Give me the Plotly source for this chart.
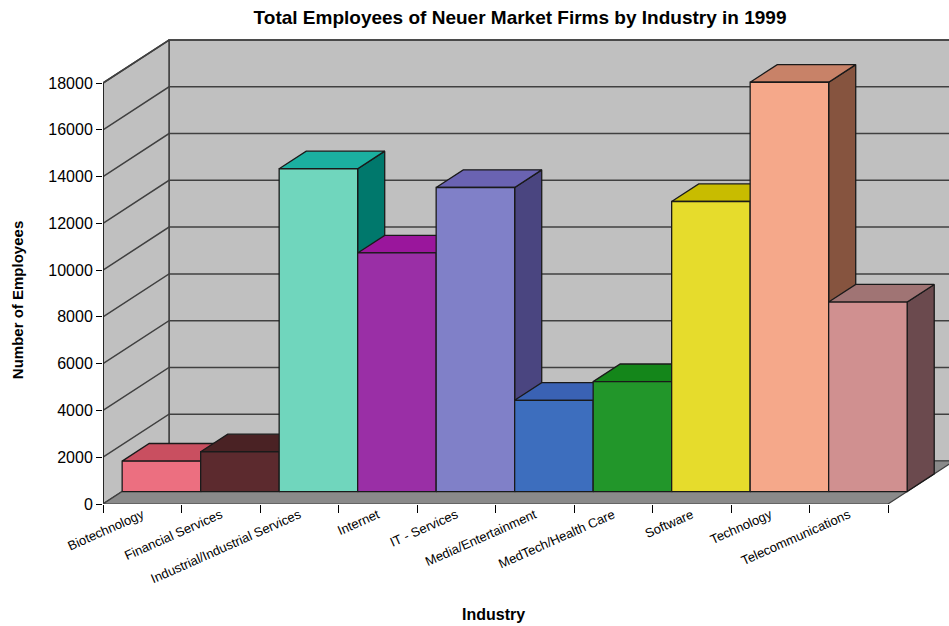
import plotly.graph_objects as go

# ---------------- data ----------------
categories = ["Biotechnology", "Financial Services", "Industrial/Industrial Services",
              "Internet", "IT - Services", "Media/Entertainment", "MedTech/Health Care",
              "Software", "Technology", "Telecommunications"]
employees = [1300, 1700, 13800, 10200, 13000, 3900, 4700, 12400, 17500, 8100]
y_tick_values = [0, 2000, 4000, 6000, 8000, 10000, 12000, 14000, 16000, 18000]
y_tick_labels = [str(v) for v in y_tick_values]

front_colors = ["#ec6f80", "#5c2a2e", "#70d6bd", "#9a2fa6", "#8080c8", "#3d6ebe",
                "#22962a", "#e6dc2c", "#f5a88a", "#d09090"]
top_colors = ["#c94f60", "#4a2224", "#1bb0a0", "#9a169c", "#6a63b2", "#3a62b4",
              "#14861a", "#c8bc00", "#c88268", "#a07474"]
side_colors = ["#8a3040", "#3a1a1c", "#00786c", "#6a106a", "#4a4580", "#2a4080",
               "#0e5a12", "#8a8000", "#86543f", "#6b4a4e"]

# ---------------- pseudo-3D geometry (data units) ----------------
DEPTH_X = 0.841      # full depth, category units
DEPTH_Y = 1838       # full depth, value units
BAR_T0, BAR_T1 = 0.29, 0.70   # bar front / back depth fractions
X_MAX = 10.777
Y_MAX = 20266
WALL = "#c0c0c0"
FLOOR = "#8a8a8a"
LINE = "#1a1a1a"

n = len(categories)
top_val = max(y_tick_values)

fig = go.Figure()


def poly(xs, ys, fill, lw=1.3, color=LINE):
    fig.add_trace(go.Scatter(x=xs + [xs[0]], y=ys + [ys[0]], mode="lines", fill="toself",
                             fillcolor=fill, line=dict(color=color, width=lw),
                             hoverinfo="skip", showlegend=False))


def seg(xs, ys, color="#404040", lw=1.5):
    fig.add_trace(go.Scatter(x=xs, y=ys, mode="lines", line=dict(color=color, width=lw),
                             hoverinfo="skip", showlegend=False))


# back wall
poly([DEPTH_X, DEPTH_X, X_MAX + 0.5, X_MAX + 0.5],
     [DEPTH_Y, top_val + DEPTH_Y, top_val + DEPTH_Y, DEPTH_Y], WALL, lw=1.5, color="#404040")
# side wall
poly([0, 0, DEPTH_X, DEPTH_X], [0, top_val, top_val + DEPTH_Y, DEPTH_Y], WALL, lw=1.5, color="#404040")
# grid lines
for v in y_tick_values[1:]:
    seg([0, DEPTH_X, X_MAX + 0.5], [v, v + DEPTH_Y, v + DEPTH_Y])
# front axis line
seg([0, 0], [0, top_val], color="#202020", lw=1.8)
# floor
poly([0, n, n + DEPTH_X, DEPTH_X], [0, 0, DEPTH_Y, DEPTH_Y], FLOOR, lw=1.2, color="#404040")

# bars
ax0, ay0 = BAR_T0 * DEPTH_X, BAR_T0 * DEPTH_Y
ex, ey = (BAR_T1 - BAR_T0) * DEPTH_X, (BAR_T1 - BAR_T0) * DEPTH_Y
for i, v in enumerate(employees):
    xl, xr = i + ax0, i + 1 + ax0
    yb, yt = ay0, ay0 + v
    # side
    poly([xr, xr, xr + ex, xr + ex], [yb, yt, yt + ey, yb + ey], side_colors[i])
    # top
    poly([xl, xr, xr + ex, xl + ex], [yt, yt, yt + ey, yt + ey], top_colors[i])
    # front
    poly([xl, xr, xr, xl], [yb, yb, yt, yt], front_colors[i])

fig.update_layout(
    width=949, height=626,
    margin=dict(l=103, r=0, t=30, b=122),
    paper_bgcolor="white", plot_bgcolor="white",
    font=dict(family="Liberation Sans, Arial, sans-serif", color="black"),
    title=dict(text="<b>Total Employees of Neuer Market Firms by Industry in 1999</b>",
               x=0.548, xanchor="center", y=0.972, yanchor="middle",
               font=dict(size=19, color="black")),
    xaxis=dict(range=[0, X_MAX], showgrid=False, zeroline=False, showline=False,
               tickvals=[i + 0.5 for i in range(n)], ticktext=categories,
               tickangle=-24, ticks="", tickfont=dict(size=13),
               minor=dict(ticks="outside", ticklen=8, tickcolor="black", tickwidth=1.2,
                          tick0=0, dtick=1, showgrid=False)),
    yaxis=dict(range=[0, Y_MAX], showgrid=False, zeroline=False, showline=False,
               tickvals=y_tick_values, ticktext=y_tick_labels, ticks="outside",
               ticklen=6, tickcolor="black", tickwidth=1.2, tickfont=dict(size=16)),
    annotations=[
        dict(text="<b>Number of Employees</b>", xref="paper", yref="paper",
             x=-0.1017, y=0.43, textangle=-90, showarrow=False,
             font=dict(size=15, color="black"), xanchor="center", yanchor="middle"),
        dict(text="<b>Industry</b>", xref="paper", yref="paper",
             x=0.462, y=-0.234, showarrow=False,
             font=dict(size=16, color="black"), xanchor="center", yanchor="middle"),
    ],
)

fig.write_html("out.html")
